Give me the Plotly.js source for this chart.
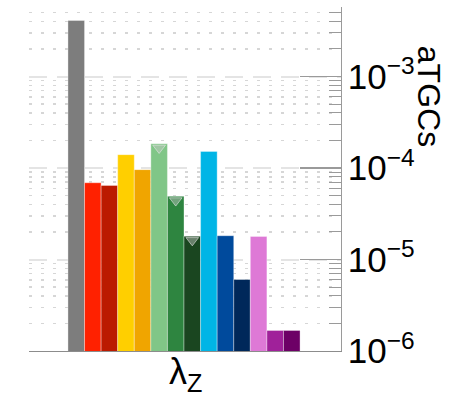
<!DOCTYPE html>
<html>
<head>
<meta charset="utf-8">
<script src="https://cdn.plot.ly/plotly-3.0.1.min.js"></script>
<style>html,body{margin:0;padding:0;background:#fff;}#chart{width:449px;height:404px;}</style>
</head>
<body>
<div id="chart"></div>
<script>
// Data
const categories = ["c1","c2","c3","c4","c5","c6","c7","c8","c9","c10","c11","c12","c13","c14"];
const values = [4.1e-3, 6.9e-5, 6.45e-5, 1.4e-4, 9.6e-5, 1.84e-4, 4.9e-5, 1.8e-5, 1.52e-4, 1.82e-5, 6.05e-6, 1.79e-5, 1.68e-6, 1.68e-6];
const barColors = ["#7d7d7d","#ff2100","#bb1a00","#ffcf00","#f0a500","#80c687","#2e8540","#1a4620","#00b5e6","#004a9c","#00285a","#de79d6","#a0219a","#6d0066"];
const flagged = [false,false,false,false,false,true,true,true,false,false,false,false,false,false];
const yTitle = "aTGCs";
const xTitle = "λ<sub>Z</sub>";

const flagX = [], flagY = [];
categories.forEach((c, i) => { if (flagged[i]) { flagX.push(c); flagY.push(values[i] * 0.9); } });

const traces = [
  {
    type: "bar", x: categories, y: values,
    marker: { color: barColors, line: { color: "rgba(255,255,255,0.35)", width: 1 } },
    width: 1, hoverinfo: "skip", showlegend: false
  },
  {
    type: "scatter", mode: "markers", x: flagX, y: flagY,
    marker: { symbol: "triangle-down", size: 11, color: "rgba(200,200,200,0.45)",
              line: { color: "rgba(230,230,230,0.6)", width: 1 } },
    hoverinfo: "skip", showlegend: false
  }
];

const layout = {
  width: 449, height: 404,
  margin: { l: 29, r: 108, t: 7, b: 53 },
  paper_bgcolor: "#fff", plot_bgcolor: "#fff",
  font: { family: "Liberation Sans, Arial, sans-serif", color: "#000" },
  bargap: 0,
  xaxis: {
    type: "category", range: [-2.85, 15.97],
    showticklabels: false, ticks: "", showgrid: false, zeroline: false,
    showline: true, linecolor: "#8c8c8c", linewidth: 1.2
  },
  yaxis: {
    type: "log", side: "right", range: [-6, -2.24], dtick: 1,
    exponentformat: "power", showexponent: "all",
    tickfont: { size: 28, family: "Liberation Sans, Arial, sans-serif" },
    ticks: "inside", ticklen: 41, tickcolor: "#9a9a9a", tickwidth: 1.2,
    showline: true, linecolor: "#9a9a9a", linewidth: 1.2,
    showgrid: true, gridcolor: "#e4e4e4", gridwidth: 2, griddash: "18px,10px",
    zeroline: false,
    minor: { dtick: "D1", ticks: "inside", ticklen: 12, tickcolor: "#9a9a9a", tickwidth: 1,
             showgrid: true, gridcolor: "#d6d6d6", gridwidth: 1.5, griddash: "3px,9px" }
  },
  annotations: [
    {
      text: yTitle, xref: "paper", yref: "paper", x: 1.283, y: 0.741,
      xanchor: "center", yanchor: "middle", textangle: 90, showarrow: false,
      font: { size: 32, family: "Liberation Sans, Arial, sans-serif", color: "#000" }
    },
    {
      text: xTitle, xref: "paper", yref: "paper", x: 0.5, y: 0.005,
      xanchor: "center", yanchor: "top", showarrow: false,
      font: { size: 36, family: "Liberation Sans, Arial, sans-serif", color: "#000" }
    }
  ]
};

Plotly.newPlot("chart", traces, layout, { staticPlot: true, displayModeBar: false });
</script>
</body>
</html>
